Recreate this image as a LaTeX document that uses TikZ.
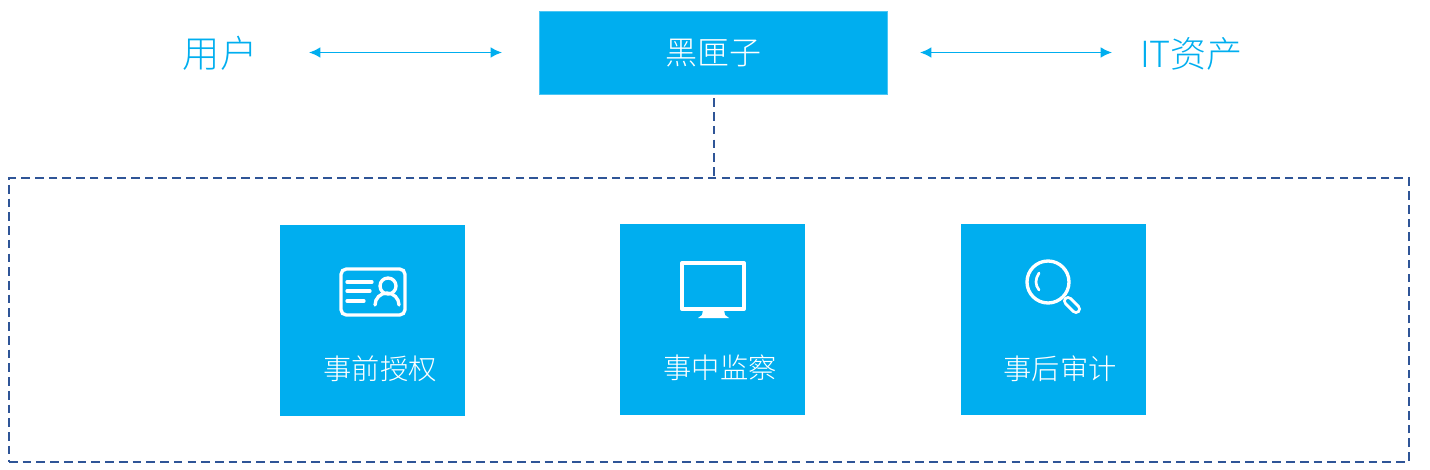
\documentclass[tikz,border=0pt]{standalone}
\usepackage{fontspec}
\setmainfont{Noto Sans CJK SC}[UprightFont={* Light}]
\usetikzlibrary{arrows.meta,positioning}
\definecolor{skyblue}{RGB}{0,174,239}
\definecolor{darkdash}{RGB}{47,85,151}
\begin{document}
\begin{tikzpicture}[
    x=0.75pt, y=-0.75pt,
    card/.style={fill=skyblue, draw=none, anchor=north west, inner sep=0pt, minimum width=138.75pt, minimum height=143.25pt},
    cardlabel/.style={text=white, font=\fontsize{21.2}{21.2}\selectfont, inner sep=0pt},
    toplabel/.style={text=skyblue, inner sep=0pt},
    link/.style={draw=skyblue, line width=1.1pt, {Latex[length=8.5pt,width=8pt]}-{Latex[length=8.5pt,width=8pt]}},
    dashline/.style={draw=darkdash, line width=1.5pt, dash pattern=on 6.5pt off 3.8pt},
    icon/.style={draw=white, line width=2.5pt, line cap=round}
]
    \useasboundingbox (0,0) rectangle (1430,470);

    % top row
    \node[toplabel, font=\fontsize{28}{28}\selectfont] (user) at (220,53.5) {用户};
    \node[fill=skyblue, draw=skyblue!70, line width=0.5pt, minimum width=261pt, minimum height=62pt, inner sep=0pt, text=white, font=\fontsize{24}{24}\selectfont] (blackbox) at (713.5,52.7) {黑匣子};
    \node[toplabel, font=\fontsize{27}{27}\selectfont] (asset) at (1191.5,53.5) {IT资产};
    \coordinate (userend) at (309,52.5);
    \coordinate (boxleft) at (502,52.5);
    \coordinate (boxright) at (920,52.5);
    \coordinate (assetend) at (1112,52.5);
    \draw[link] (userend) -- (boxleft);
    \draw[link] (boxright) -- (assetend);

    % dashed frame
    \node[dashline, draw, anchor=north west, inner sep=0pt, outer sep=0pt, minimum width=1050pt, minimum height=212.5pt] (frame) at (9,178.2) {};
    \draw[dashline, shorten <=3pt] (blackbox.south) -- (blackbox.south |- frame.north);

    % three cards
    \node[card] (before) at (280,225) {};
    \node[card] (during) at (620,224) {};
    \node[card] (after) at (961,224) {};
    \node[cardlabel] (beforetext) at (380,369) {事前授权};
    \node[cardlabel] (duringtext) at (720,368) {事中监察};
    \node[cardlabel] (aftertext) at (1060,369) {事后审计};

    % id card icon
    \draw[icon, rounded corners=4pt] (341,269) rectangle (405,315);
    \draw[icon] (347,282) -- (372,282) (347,291) -- (370,291) (347,301) -- (364,301);
    \draw[icon] (388,286) circle[radius=8];
    \draw[icon] (375,305) arc (180:360:12);

    % monitor icon
    \draw[icon, line cap=butt, line join=round, line width=3pt] (682,263) rectangle (744,309);
    \fill[white] (703,310) -- (724,310) -- (725,315) -- (729,318) -- (698,318) -- (702,315) -- cycle;

    % magnifier icon
    \draw[icon] (1048,282) circle[radius=21];
    \draw[icon, line width=2pt] (1039,273) .. controls (1035,279) and (1035,285) .. (1039,290);
    \draw[white, line width=7.5pt, line cap=round] (1068,301) -- (1076,309);
    \draw[skyblue, line width=3pt, line cap=round] (1068,301) -- (1076,309);
\end{tikzpicture}
\end{document}
